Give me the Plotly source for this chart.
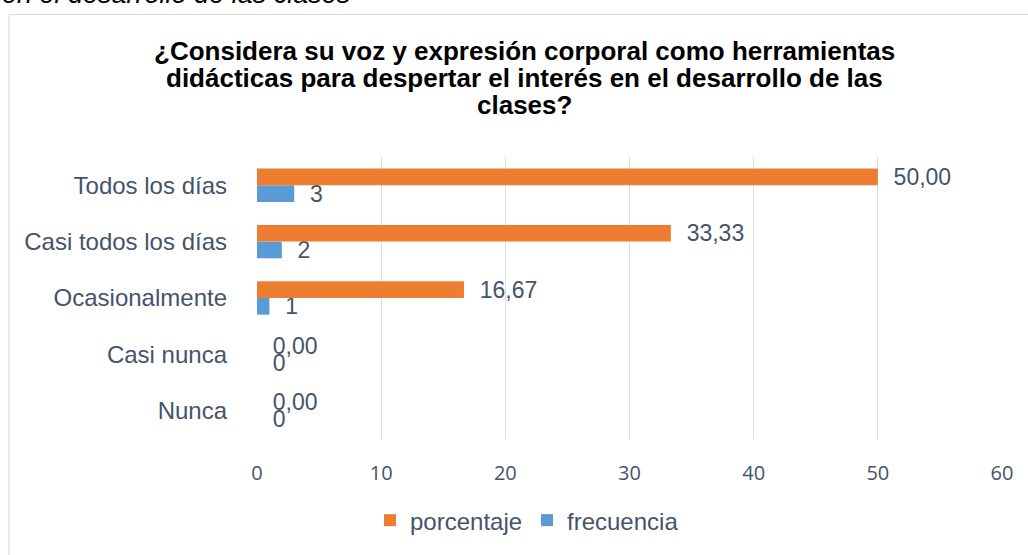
import plotly.graph_objects as go

categorias = ["Nunca", "Casi nunca", "Ocasionalmente", "Casi todos los días", "Todos los días"]
porcentaje = [0.00, 0.00, 16.67, 33.33, 50.00]
frecuencia = [0, 0, 1, 2, 3]
ticks_x = [0, 10, 20, 30, 40, 50, 60]
titulo = ["¿Considera su voz y expresión corporal como herramientas",
          "didácticas para despertar el interés en el desarrollo de las",
          "clases?"]

NB = "\u00a0\u00a0"
txt_pct = [NB + f"{v:.2f}".replace(".", ",") for v in porcentaje]
txt_frec = [NB + str(v) for v in frecuencia]

TXT = "#44546A"
FONT = "Liberation Sans, Arial, sans-serif"

fig = go.Figure()
fig.add_trace(go.Bar(
    y=categorias, x=frecuencia, orientation="h", name="frecuencia",
    marker=dict(color="#5B9BD5", line=dict(width=0)),
    text=txt_frec, textposition="outside", cliponaxis=False, constraintext="none",
    textfont=dict(size=23, color=TXT, family=FONT), legendrank=2,
))
fig.add_trace(go.Bar(
    y=categorias, x=porcentaje, orientation="h", name="porcentaje",
    marker=dict(color="#ED7D31", line=dict(width=0)),
    text=txt_pct, textposition="outside", cliponaxis=False, constraintext="none",
    textfont=dict(size=23, color=TXT, family=FONT), legendrank=1,
))

W, H = 1028, 555
L, R, T, B = 257, 26, 157, 111
pw, ph = W - L - R, H - T - B

def px(x):
    return (x - L) / pw

def py(y):
    return (H - B - y) / ph

annots = []
for i, line in enumerate(titulo):
    annots.append(dict(text="<b>" + line + "</b>", xref="paper", yref="paper",
                       x=px(524), y=py(49 + 27.5 * i), xanchor="center", yanchor="middle",
                       showarrow=False, font=dict(size=26, color="#000000", family=FONT)))
annots.append(dict(text="<i>en el desarrollo de las clases</i>",
                   xref="paper", yref="paper", x=px(0), y=py(-9), xanchor="left", yanchor="middle",
                   showarrow=False, font=dict(size=27, color="#000000", family=FONT)))

frame = dict(color="#D9D9D9", width=1)
fig.update_layout(
    width=W, height=H,
    margin=dict(l=L, r=R, t=T, b=B),
    paper_bgcolor="white", plot_bgcolor="white",
    barmode="group", bargap=0.408, bargroupgap=0,
    font=dict(family=FONT, color=TXT),
    showlegend=True,
    legend=dict(orientation="h", x=px(370), xanchor="left", y=py(527), yanchor="middle",
                font=dict(size=24, color=TXT, family=FONT), itemwidth=30,
                entrywidth=112, entrywidthmode="pixels", traceorder="normal"),
    xaxis=dict(range=[0, 60], tickvals=ticks_x, showgrid=True, gridcolor="#D9DEE6",
               gridwidth=1, zeroline=False, showline=False, ticks="",
               tickfont=dict(size=20, color=TXT, family="Open Sans, sans-serif"),
               ticklabelstandoff=20),
    yaxis=dict(showgrid=False, zeroline=False, showline=False, ticks="",
               tickfont=dict(size=24, color=TXT, family=FONT), ticklabelstandoff=29),
    shapes=[
        dict(type="line", xref="paper", yref="paper", x0=px(9), x1=px(9), y0=py(12), y1=py(575),
             line=frame, layer="below"),
        dict(type="line", xref="paper", yref="paper", x0=px(9), x1=px(1045), y0=py(12), y1=py(12),
             line=frame, layer="below"),
    ],
    annotations=annots,
)

fig.write_html("out.html", config={"displayModeBar": False},
               post_script="document.body.style.margin='0px';"
                           "document.body.style.overflow='hidden';"
                           "document.documentElement.style.overflow='hidden';")
